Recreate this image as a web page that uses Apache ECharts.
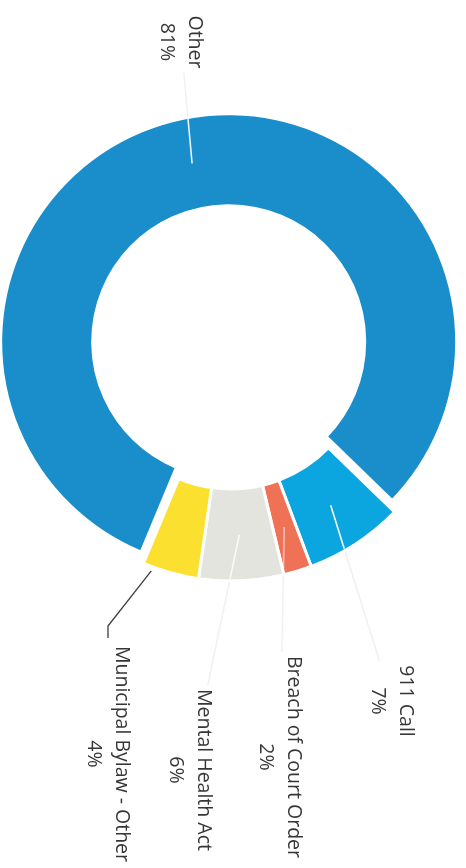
<!DOCTYPE html>
<html>
<head>
<meta charset="utf-8">
<script src="https://cdn.jsdelivr.net/npm/echarts@6/dist/echarts.min.js"></script>
<style>
  html, body { margin: 0; padding: 0; background: #ffffff; }
  #chart { width: 466px; height: 868px; }
</style>
</head>
<body>
<div id="chart"></div>
<script>
// Occurrences by type, share in percent
const categories = ['911 Call', 'Breach of Court Order', 'Mental Health Act', 'Municipal Bylaw - Other', 'Other'];
const shares = [7, 2, 6, 4, 81];
const sliceColors = ['#0ba5df', '#ef7257', '#e4e4df', '#fbe02f', '#1a8ecb'];

// Ring geometry (pixels); the whole page is laid out turned a quarter clockwise
const CX = 231, CY = 353, R0 = 136, R1 = 228;
const START = 44.2;          // first slice begins this many degrees clockwise from 3 o'clock
const PULLED = 4;            // the large slice is pulled out of the ring
const PULL = 11.5;
const labelSpots = {
  '911 Call': [392, 701],
  'Breach of Court Order': [280, 757],
  'Mental Health Act': [190, 770],
  'Municipal Bylaw - Other': [108, 754],
  'Other': [181, 42]
};
// leader strokes across the slices themselves
const innerLeaderColors = ['rgba(255,255,255,0.95)', 'rgba(255,255,255,0.55)', 'rgba(255,255,255,0.8)', null, 'rgba(255,255,255,0.9)'];

const rad = d => d * Math.PI / 180;
const total = shares.reduce((a, b) => a + b, 0);

function sliceGeom(i) {
  let before = 0;
  for (let k = 0; k < i; k++) before += shares[k];
  const a0 = START + 360 * before / total;
  const a1 = a0 + 360 * shares[i] / total;
  const mid = (a0 + a1) / 2;
  let cx = CX, cy = CY;
  if (i === PULLED) { cx += PULL * Math.cos(rad(mid)); cy += PULL * Math.sin(rad(mid)); }
  return { a0, a1, mid, cx, cy };
}

function polar(g, r, ang) {
  return [g.cx + r * Math.cos(rad(ang)), g.cy + r * Math.sin(rad(ang))];
}

// Each ring layer draws either the pulled slice or the rest; the other slices are left empty
function layerData(showPulled) {
  return categories.map((name, i) => {
    const visible = (i === PULLED) === showPulled;
    return {
      name,
      value: shares[i],
      itemStyle: visible
        ? { color: sliceColors[i] }
        : { color: 'rgba(0,0,0,0)', borderWidth: 0 },
      label: { show: visible },
      labelLine: {
        show: visible,
        lineStyle: i === 3
          ? { color: '#3d3d3d', width: 1.3 }
          : { color: '#f0f0f0', width: 1.5 }
      }
    };
  });
}

function leaderStart(g) {
  return polar(g, (R0 + R1) / 2, g.mid);
}

function placeLabel(params) {
  const i = params.dataIndex;
  const spot = labelSpots[categories[i]];
  const g = sliceGeom(i);
  const hw = params.labelRect.width / 2;
  const hh = params.labelRect.height / 2;
  let pts;
  if (i === 3) {
    const top = spot[1] - hh;
    pts = [polar(g, R1 + 4, g.a1 - 2.5), [spot[0], top - 20], [spot[0], top - 8]];
  } else {
    const s = leaderStart(g);
    const dx = s[0] - spot[0], dy = s[1] - spot[1];
    const t = Math.min((hw + 4) / Math.max(Math.abs(dx), 1e-6), (hh + 4) / Math.max(Math.abs(dy), 1e-6));
    const e = [spot[0] + dx * t, spot[1] + dy * t];
    pts = [s, [(s[0] + e[0]) / 2, (s[1] + e[1]) / 2], e];
  }
  return {
    x: spot[0], y: spot[1],
    align: 'center', verticalAlign: 'middle',
    rotate: -90,
    labelLinePoints: pts
  };
}

const labelStyle = {
  position: 'outside',
  rotate: -90,
  formatter: '{b}\n{c}%',
  fontFamily: 'Open Sans',
  fontSize: 19.5,
  lineHeight: 28,
  color: '#363636',
  align: 'center'
};

function ringLayer(showPulled) {
  const g = sliceGeom(PULLED);
  return {
    type: 'pie',
    z: 2,
    silent: true,
    center: showPulled ? [g.cx, g.cy] : [CX, CY],
    radius: [R0, R1],
    startAngle: -START,
    clockwise: true,
    avoidLabelOverlap: false,
    emphasis: { disabled: true },
    itemStyle: { borderColor: '#ffffff', borderWidth: 3 },
    label: labelStyle,
    labelLine: { length: 20, length2: 10, smooth: false },
    labelLayout: placeLabel,
    data: layerData(showPulled)
  };
}

// Empty ring on top that only carries the part of each leader that crosses its slice
function leaderLayer() {
  return {
    type: 'pie',
    z: 5,
    silent: true,
    center: [CX, CY],
    radius: [R0, R1],
    startAngle: -START,
    clockwise: true,
    avoidLabelOverlap: false,
    emphasis: { disabled: true },
    itemStyle: { color: 'rgba(0,0,0,0)', borderWidth: 0 },
    label: { show: true, position: 'outside', formatter: ' ', color: 'rgba(0,0,0,0)' },
    labelLine: { show: true, length: 10, length2: 5, smooth: false },
    labelLayout: function (params) {
      const i = params.dataIndex;
      const g = sliceGeom(i);
      const s = leaderStart(g);
      const spot = labelSpots[categories[i]];
      const dx = spot[0] - s[0], dy = spot[1] - s[1];
      const len = Math.hypot(dx, dy);
      // walk from the slice middle toward the label until the outer rim
      let e = s;
      for (let d = 0; d < len; d += 0.5) {
        const p = [s[0] + dx * d / len, s[1] + dy * d / len];
        if (Math.hypot(p[0] - g.cx, p[1] - g.cy) > R1 - 1.5) break;
        e = p;
      }
      return { x: spot[0], y: spot[1], labelLinePoints: [s, [(s[0] + e[0]) / 2, (s[1] + e[1]) / 2], e] };
    },
    data: categories.map((name, i) => ({
      name,
      value: shares[i],
      label: { show: innerLeaderColors[i] !== null },
      labelLine: {
        show: innerLeaderColors[i] !== null,
        lineStyle: { color: innerLeaderColors[i] || 'rgba(0,0,0,0)', width: 1.6 }
      }
    }))
  };
}

const chart = echarts.init(document.getElementById('chart'), null, { renderer: 'canvas' });
chart.setOption({
  animation: false,
  backgroundColor: '#ffffff',
  series: [ringLayer(false), ringLayer(true), leaderLayer()]
});
</script>
</body>
</html>
